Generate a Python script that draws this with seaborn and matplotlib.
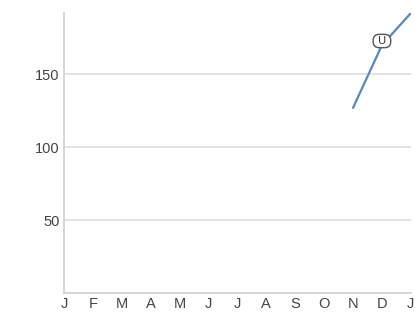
import numpy as np
import pandas as pd
import matplotlib
matplotlib.use('Agg')
import matplotlib.pyplot as plt
import seaborn as sns

months = ['J', 'F', 'M', 'A', 'M', 'J', 'J', 'A', 'S', 'O', 'N', 'D', 'J']
values = [np.nan] * 10 + [127, 170, 192]
marker_label = 'U'
marker_index = 11

sns.set_style('white')
plt.rcParams['font.family'] = ['Liberation Sans', 'DejaVu Sans']

df = pd.DataFrame({'pos': range(len(months)), 'value': values}).dropna()

fig = plt.figure(figsize=(4.15, 3.12), dpi=100)
ax = fig.add_axes([0.154, 0.061, 0.836, 0.897])

# light horizontal gridlines
for y in [50, 100, 150]:
    ax.axhline(y, color='#dedede', lw=1.2, zorder=0)

sns.lineplot(data=df, x='pos', y='value', color='#5688bf', lw=1.6, ax=ax)

ax.annotate(' ' + marker_label + ' ', (marker_index, values[marker_index]), xytext=(0, 3),
            textcoords='offset points', ha='center', va='center', fontsize=8,
            color='#333333',
            bbox=dict(boxstyle='round,pad=0.15,rounding_size=0.55', fc='white', ec='#555555', lw=1.0))

ax.set_xlim(0, 12)
ax.set_ylim(0, 192)
ax.set_xticks(range(len(months)))
ax.set_xticklabels(months)
ax.set_yticks([50, 100, 150])
ax.set_xlabel('')
ax.set_ylabel('')
ax.tick_params(axis='both', length=0, labelsize=10.5, colors='#444444', pad=3)
for s in ['top', 'right']:
    ax.spines[s].set_visible(False)
for s in ['left', 'bottom']:
    ax.spines[s].set_color('#cfcfcf')
    ax.spines[s].set_linewidth(1.2)

fig.savefig('out.png', dpi=100)
